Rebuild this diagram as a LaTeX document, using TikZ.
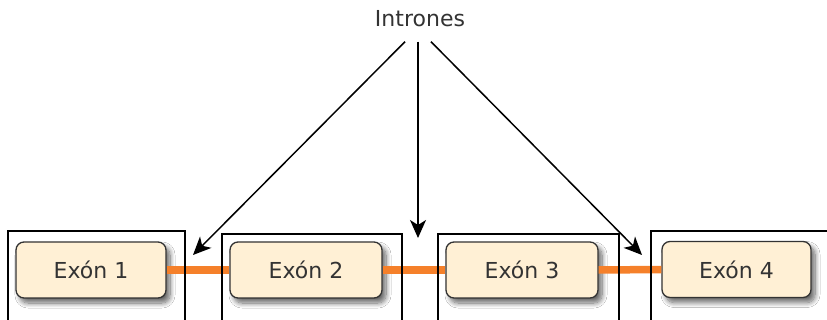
\documentclass[tikz,border=0pt]{standalone}
\usepackage{fontspec}
\setmainfont{DejaVu Sans}
\usetikzlibrary{arrows.meta,shadows.blur}
\definecolor{exonfill}{HTML}{FFF0D5}
\definecolor{exonline}{HTML}{333333}
\definecolor{splice}{HTML}{F5802A}
\tikzset{
  exonbox/.style={draw=exonline, line width=1.3pt, fill=exonfill, rounded corners=8pt,
    minimum width=150pt, minimum height=56pt, inner sep=0pt, text=exonline,
    font=\fontsize{22}{25}\selectfont,
    blur shadow={shadow xshift=4pt, shadow yshift=-5pt, shadow blur radius=5pt,
      shadow blur steps=10, shadow opacity=60}},
  frame/.style={draw=black, line width=1.3pt},
  intronarrow/.style={draw=black, line width=1.5pt, -{Stealth[length=18pt, width=16pt, inset=5pt]}},
  joint/.style={draw=splice, line width=7.5pt}
}
\begin{document}
\begin{tikzpicture}[x=1pt, y=-1pt]

      \clip (0,0) rectangle (827,320);
      \fill[white] (0,0) rectangle (827,320);

      \node[exonbox] (e1) at (91,270) {Exón 1};
      \node[exonbox, minimum width=152pt] (e2) at (306,270) {Exón 2};
      \node[exonbox, minimum width=152pt] (e3) at (522,270) {Exón 3};
      \node[exonbox, minimum width=149pt] (e4) at (736.5,269.5) {Exón 4};

      \draw[joint] (e1.east) -- (e2.west);
      \draw[joint] (e2.east) -- (e3.west);
      \draw[joint] (e3.east) -- (e4.west);

      \draw[frame] (8,340) |- (185,231) -- (185,340);
      \draw[frame] (222,340) |- (402,234) -- (402,340);
      \draw[frame] (438,340) |- (619,234) -- (619,340);
      \draw[frame] (651,340) |- (840,231);

      \node[text=exonline, font=\fontsize{22}{25}\selectfont] (intr) at (420,19) {Intrones};
      \coordinate (i1) at (193,255);
      \coordinate (i2) at (418,238);
      \coordinate (i3) at (642,255);
      \draw[intronarrow] ([xshift=-15pt]intr.south) ++(0,11) -- (i1);
      \draw[intronarrow] ([xshift=-2pt]intr.south) ++(0,11) -- (i2);
      \draw[intronarrow] ([xshift=11pt]intr.south) ++(0,11) -- (i3);

    \end{tikzpicture}
\end{document}
